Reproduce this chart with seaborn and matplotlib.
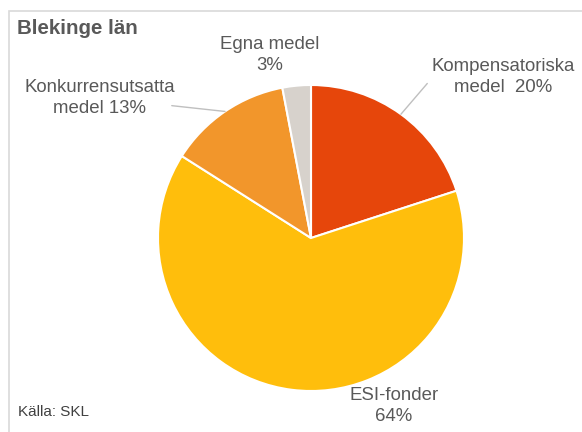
import numpy as np
import seaborn as sns
import matplotlib.pyplot as plt
from matplotlib.patches import Rectangle

# Data
categories = ["Kompensatoriska\nmedel  20%", "ESI-fonder\n64%", "Konkurrensutsatta\nmedel 13%", "Egna medel\n3%"]
shares = [20, 64, 13, 3]

colors = ["#E6460B", "#FFBE0C", "#F2962B", "#D7D2CC"]

# label placement (data units, pie radius = 1)
label_pos = [(1.255, 1.05), (0.54, -1.10), (-1.38, 0.915), (-0.27, 1.195)]
line_end = [(0.76, 1.01), None, (-0.91, 0.865), None]

sns.set_theme(style="white")
plt.rcParams["font.family"] = ["Liberation Sans", "DejaVu Sans"]

W, H = 582, 432
fig = plt.figure(figsize=(W / 100, H / 100), dpi=100)
fig.patch.set_facecolor("white")

cx, cy, r = 311, 238, 153
ax = fig.add_axes([(cx - r) / W, (H - cy - r) / H, 2 * r / W, 2 * r / H])
wedges, _ = ax.pie(shares, colors=colors, startangle=90, counterclock=False,
                   radius=1, wedgeprops=dict(edgecolor="white", linewidth=1.5))
ax.set_xlim(-1, 1)
ax.set_ylim(-1, 1)
ax.set_aspect("equal")
ax.axis("off")

for w, lab, pos, end in zip(wedges, categories, label_pos, line_end):
    ang = np.deg2rad((w.theta1 + w.theta2) / 2)
    ax.text(pos[0], pos[1], lab, ha="center", va="center", fontsize=13.4,
            color="#595959", linespacing=1.3)
    if end is not None:
        ax.plot([np.cos(ang), end[0]], [np.sin(ang), end[1]],
                color="#BFBFBF", lw=1, clip_on=False)

fig.text(17 / W, 1 - 28 / H, "Blekinge län", fontsize=14.8, fontweight="bold",
         color="#595959", ha="left", va="center")
fig.text(18 / W, 1 - 412 / H, "Källa: SKL", fontsize=11, color="#404040",
         ha="left", va="center")

# chart frame (only top and left visible in the crop)
fig.add_artist(Rectangle((9 / W, -0.1), 1.2, 1.1 - 11 / H, transform=fig.transFigure,
                         fill=False, edgecolor="#D9D9D9", lw=1.2, clip_on=False))

fig.savefig("out.png", dpi=100)
